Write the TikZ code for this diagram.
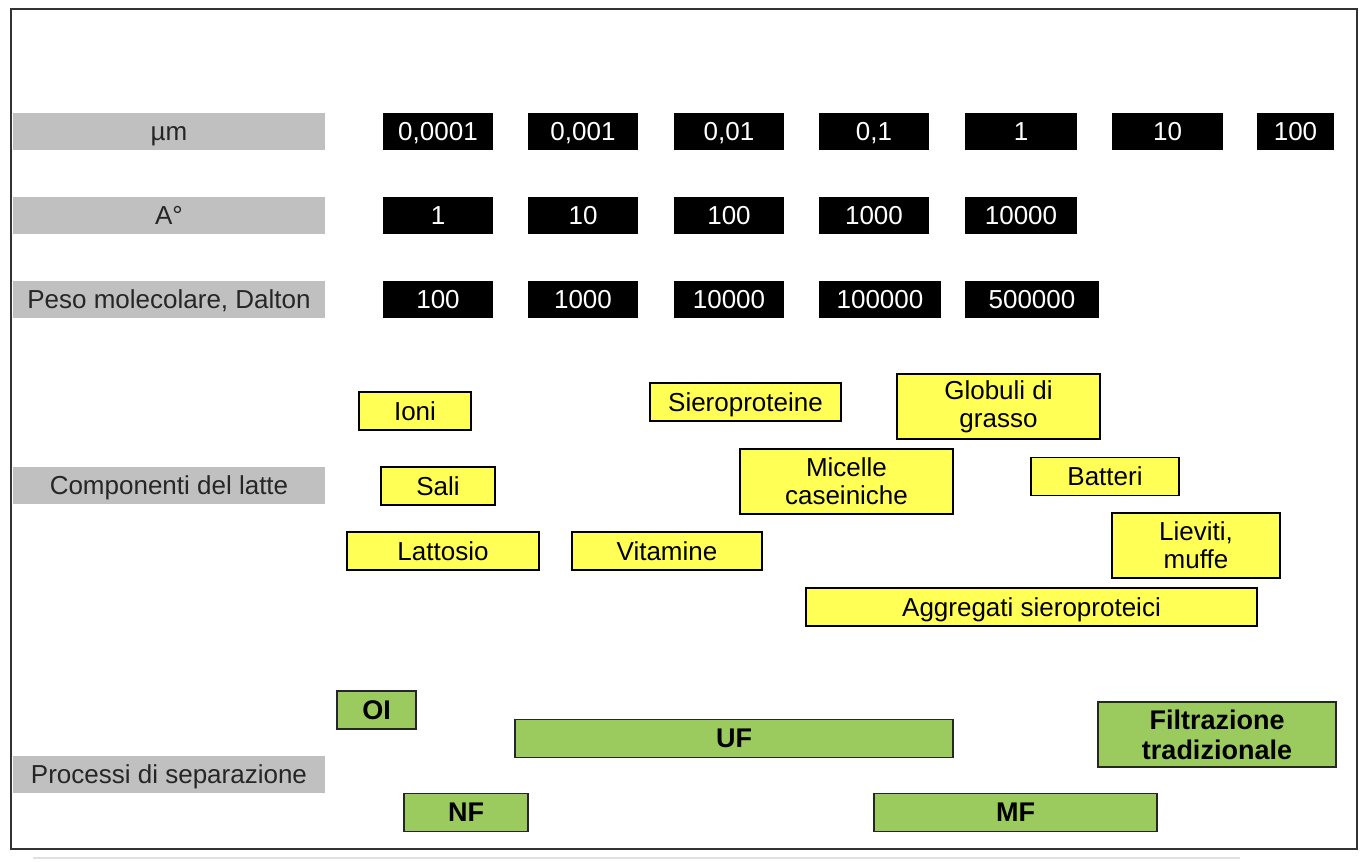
\documentclass[tikz,border=0pt]{standalone}
\usepackage{fontspec}
\setmainfont{Liberation Sans}
\definecolor{barGray}{RGB}{192,192,192}
\definecolor{milkYellow}{RGB}{255,255,85}
\definecolor{procGreen}{RGB}{155,203,95}
\begin{document}
\begin{tikzpicture}[x=0.5pt,y=-0.5pt,
    every node/.style={inner sep=0pt,font=\fontsize{13}{14}\selectfont},
    lbl/.style={fill=barGray,text=black!85,minimum width=156pt,minimum height=18.5pt,
        text height=10.5pt,text depth=1.2pt},
    scl/.style={fill=black,text=white,minimum width=55pt,minimum height=18.5pt,
        text height=10.5pt,text depth=1.2pt},
    one/.style={text height=10.5pt,text depth=1.2pt},
    comp/.style={draw=black,line width=0.75pt,fill=milkYellow,align=center,minimum height=19pt},
    proc/.style={draw=black!85,line width=0.75pt,fill=procGreen,align=center,minimum height=19pt,
        font=\bfseries\fontsize{13.5}{15}\selectfont}]
    \useasboundingbox (0,0) rectangle (1372,862);
    \draw [black!80, line width=0.9pt] (11,9) rectangle (1357,849);
    \draw [black!12, line width=1.2pt] (33,858) -- (1240,858);
    % row labels
    \node [lbl] (mu) at (169,131) {µm};
    \node [lbl] (ang) at (169,215) {A°};
    \node [lbl] (peso) at (169,299.5) {Peso molecolare, Dalton};
    \node [lbl] (comp) at (169,485.5) {Componenti del latte};
    \node [lbl] (proc) at (169,774.5) {Processi di separazione};
    % scale in micron
    \node [scl] (mu1) at (438,131.5) {0,0001};
    \node [scl] (mu2) at (583,131.5) {0,001};
    \node [scl] (mu3) at (729,131.5) {0,01};
    \node [scl] (mu4) at (874,131.5) {0,1};
    \node [scl, minimum width=56pt] (mu5) at (1021,131.5) {1};
    \node [scl, minimum width=55.5pt] (mu6) at (1167.5,131.5) {10};
    \node [scl, minimum width=38.5pt] (mu7) at (1295.5,131.5) {100};
    % scale in angstrom
    \node [scl] (ang1) at (438,215) {1};
    \node [scl] (ang2) at (583,215) {10};
    \node [scl] (ang3) at (729,215) {100};
    \node [scl] (ang4) at (874,215) {1000};
    \node [scl, minimum width=56pt] (ang5) at (1021,215) {10000};
    % molecular weight
    \node [scl] (pm1) at (438,299.5) {100};
    \node [scl] (pm2) at (583,299.5) {1000};
    \node [scl] (pm3) at (729,299.5) {10000};
    \node [scl, minimum width=61pt] (pm4) at (880,299.5) {100000};
    \node [scl, minimum width=67pt] (pm5) at (1032,299.5) {500000};
    % milk components
    \node [comp, one, minimum width=56pt] (ioni) at (415,411) {Ioni};
    \node [comp, one, minimum width=57pt] (sali) at (438,486) {Sali};
    \node [comp, one, minimum width=96pt] (lattosio) at (443,551) {Lattosio};
    \node [comp, one, minimum width=95pt] (vitamine) at (667,551) {Vitamine};
    \node [comp, one, minimum width=95.5pt] (siero) at (745.5,402) {Sieroproteine};
    \node [comp, minimum width=101.5pt, minimum height=32.5pt] (globuli) at (998.5,406.5) {Globuli di\\grasso};
    \node [comp, minimum width=106.5pt, minimum height=32.5pt] (micelle) at (846.5,481.5) {Micelle\\caseiniche};
    \node [comp, one, minimum width=74pt] (batteri) at (1105,476.5) {Batteri};
    \node [comp, minimum width=84pt, minimum height=32.5pt] (lieviti) at (1196,545.5) {Lieviti,\\muffe};
    \node [comp, one, minimum width=225.5pt] (aggregati) at (1031.5,607) {Aggregati sieroproteici};
    % separation processes
    \node [proc, one, minimum width=39.5pt] (oi) at (376.5,710) {OI};
    \node [proc, one, minimum width=219pt] (uf) at (734,738.5) {UF};
    \node [proc, one, minimum width=62pt] (nf) at (466,812.5) {NF};
    \node [proc, minimum width=119pt, minimum height=32.5pt] (filtr) at (1217,734.5) {Filtrazione\\tradizionale};
    \node [proc, one, minimum width=141.5pt] (mf) at (1015.5,812.5) {MF};
\end{tikzpicture}
\end{document}
